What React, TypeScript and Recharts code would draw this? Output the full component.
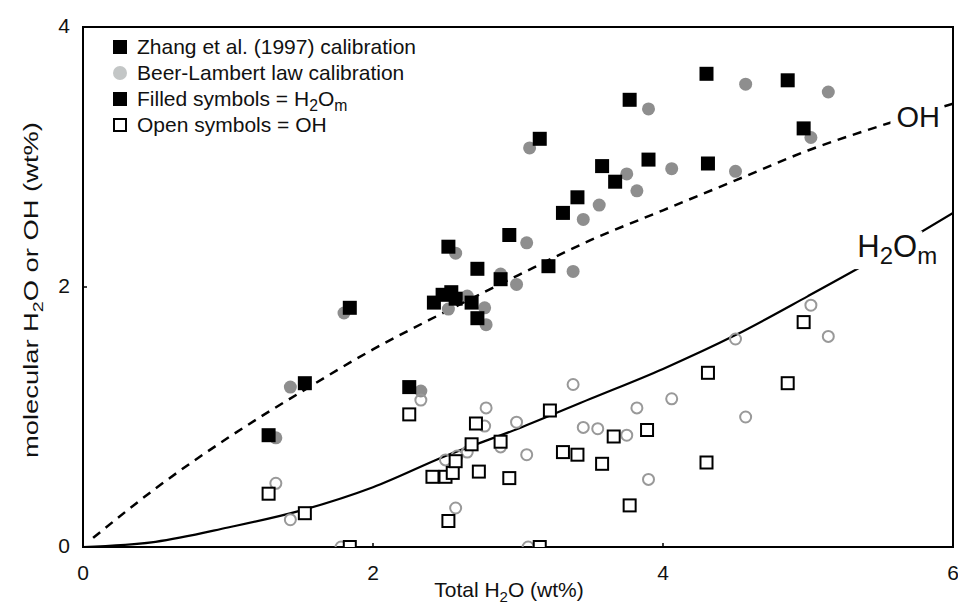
import React from "react";
import {
  ComposedChart,
  Scatter,
  Line,
  XAxis,
  YAxis,
  Label,
  ReferenceArea,
  ReferenceDot,
} from "recharts";

// Zhang et al. (1997) calibration, molecular H2O (filled squares)
const zhangH2OmX = [1.28, 1.53, 1.84, 2.25, 2.42, 2.48, 2.52, 2.54, 2.57, 2.68, 2.72, 2.72, 2.88, 2.94, 3.15, 3.21, 3.31, 3.41, 3.58, 3.67, 3.77, 3.9, 4.3, 4.31, 4.86, 4.97];
const zhangH2OmY = [0.86, 1.26, 1.84, 1.23, 1.88, 1.94, 2.31, 1.96, 1.91, 1.88, 1.76, 2.14, 2.06, 2.4, 3.14, 2.16, 2.57, 2.69, 2.93, 2.81, 3.44, 2.98, 3.64, 2.95, 3.59, 3.22];

// Beer-Lambert law calibration, molecular H2O (filled grey circles)
const beerH2OmX = [1.33, 1.43, 1.8, 2.33, 2.52, 2.57, 2.65, 2.77, 2.78, 2.88, 2.99, 3.06, 3.08, 3.38, 3.45, 3.56, 3.75, 3.82, 3.9, 4.06, 4.5, 4.57, 5.02, 5.14];
const beerH2OmY = [0.84, 1.23, 1.8, 1.2, 1.83, 2.26, 1.93, 1.84, 1.71, 2.1, 2.02, 2.34, 3.07, 2.12, 2.52, 2.63, 2.87, 2.74, 3.37, 2.91, 2.89, 3.56, 3.15, 3.5];

// Zhang et al. (1997) calibration, OH (open squares)
const zhangOHX = [1.28, 1.53, 1.84, 2.25, 2.41, 2.5, 2.52, 2.55, 2.57, 2.68, 2.71, 2.73, 2.88, 2.94, 3.15, 3.22, 3.31, 3.41, 3.58, 3.66, 3.77, 3.89, 4.3, 4.31, 4.86, 4.97];
const zhangOHY = [0.41, 0.26, 0.0, 1.02, 0.54, 0.54, 0.2, 0.57, 0.66, 0.79, 0.95, 0.58, 0.81, 0.53, 0.0, 1.05, 0.73, 0.71, 0.64, 0.85, 0.32, 0.9, 0.65, 1.34, 1.26, 1.73];

// Beer-Lambert law calibration, OH (open grey circles)
const beerOHX = [1.33, 1.43, 1.78, 2.33, 2.5, 2.57, 2.58, 2.65, 2.77, 2.78, 2.88, 2.99, 3.06, 3.07, 3.38, 3.45, 3.55, 3.75, 3.82, 3.9, 4.06, 4.5, 4.57, 5.02, 5.14];
const beerOHY = [0.49, 0.21, 0.0, 1.13, 0.67, 0.3, 0.7, 0.73, 0.93, 1.07, 0.77, 0.96, 0.71, 0.0, 1.25, 0.92, 0.91, 0.86, 1.07, 0.52, 1.14, 1.6, 1.0, 1.86, 1.62];

// model curves
const ohCurveX = [0.07, 0.5, 1, 1.5, 2, 2.5, 3, 3.5, 4, 4.5, 5, 5.5, 6];
const ohCurveY = [0.07, 0.45, 0.84, 1.19, 1.52, 1.81, 2.09, 2.36, 2.59, 2.82, 3.05, 3.24, 3.41];
const h2omCurveX = [0, 0.5, 1, 1.5, 2, 2.5, 3, 3.5, 4, 4.5, 5, 5.5, 6];
const h2omCurveY = [0, 0.04, 0.15, 0.28, 0.46, 0.7, 0.91, 1.14, 1.37, 1.63, 1.93, 2.24, 2.57];

const xTicks = [0, 2, 4, 6];
const yTicks = [0, 2, 4];

const zip = (xs: number[], ys: number[]) => xs.map((x, i) => ({ x, y: ys[i] }));

const FONT = '"Liberation Sans", Arial, Helvetica, sans-serif';

const FilledSquare = (p: any) => (
  <rect x={p.cx - 7} y={p.cy - 7} width={14} height={14} fill="#000" />
);
const OpenSquare = (p: any) => (
  <rect x={p.cx - 6} y={p.cy - 6} width={12} height={12} fill="#fff" stroke="#000" strokeWidth={2} />
);
const FilledCircle = (p: any) => <circle cx={p.cx} cy={p.cy} r={6.5} fill="#8e8e8e" />;
const OpenCircle = (p: any) => (
  <circle cx={p.cx} cy={p.cy} r={5.5} fill="none" stroke="#999" strokeWidth={2} />
);

const XTick = ({ x, y, payload }: any) => (
  <g>
    <line x1={x} x2={x} y1={y} y2={y - 4} stroke="#000" strokeWidth={1.5} />
    <text x={x} y={y + 33} textAnchor="middle" fontSize={21} fill="#111" fontFamily={FONT}>
      {payload.value}
    </text>
  </g>
);

const YTick = ({ x, y, payload }: any) => (
  <g>
    <line x1={x} x2={x + 4} y1={y} y2={y} stroke="#000" strokeWidth={1.5} />
    <text x={x - 13} y={y + 6} textAnchor="end" fontSize={21} fill="#111" fontFamily={FONT}>
      {payload.value}
    </text>
  </g>
);

const XTitle = ({ viewBox }: any) => (
  <text
    x={viewBox.x + viewBox.width / 2 - 9}
    y={597}
    textAnchor="middle"
    fontSize={21}
    fill="#111"
    fontFamily={FONT}
  >
    <tspan>Total H</tspan>
    <tspan dy={5} fontSize={15}>2</tspan>
    <tspan dy={-5}>O (wt%)</tspan>
  </text>
);

const YTitle = ({ viewBox }: any) => {
  const cx = viewBox.x + 15;
  const cy = viewBox.y + viewBox.height / 2 + 3;
  return (
    <text
      x={cx}
      y={cy}
      transform={`rotate(-90 ${cx} ${cy})`}
      textAnchor="middle"
      fontSize={21}
      fill="#111"
      fontFamily={FONT}
      textLength={336}
      lengthAdjust="spacingAndGlyphs"
    >
      <tspan>molecular H</tspan>
      <tspan dy={5} fontSize={15}>2</tspan>
      <tspan dy={-5}>O or OH (wt%)</tspan>
    </text>
  );
};

const OhTag = (p: any) => (
  <g>
    <rect x={p.cx - 6} y={p.cy - 24} width={52} height={30} fill="#fff" />
    <text x={p.cx} y={p.cy} fontSize={29} fill="#111" fontFamily={FONT}>
      OH
    </text>
  </g>
);

const H2OmTag = (p: any) => (
  <g>
    <rect x={p.cx - 5} y={p.cy - 26} width={70} height={38} fill="#fff" />
    <text x={p.cx} y={p.cy} fontSize={31} fill="#111" fontFamily={FONT}>
      <tspan>H</tspan>
      <tspan dy={7} fontSize={24}>2</tspan>
      <tspan dy={-7}>O</tspan>
      <tspan dy={7} fontSize={24}>m</tspan>
    </text>
  </g>
);

const sub: React.CSSProperties = { fontSize: "0.75em", verticalAlign: "-0.3em", lineHeight: 0 };

function LegendBox() {
  const row: React.CSSProperties = { display: "flex", alignItems: "center", height: 26 };
  const mark: React.CSSProperties = { width: 14, height: 14, marginRight: 10, boxSizing: "border-box" };
  return (
    <div
      style={{
        position: "absolute",
        left: 113,
        top: 34,
        fontFamily: FONT,
        fontSize: 21,
        color: "#111",
        lineHeight: "26px",
      }}
    >
      <div style={row}>
        <span style={{ ...mark, background: "#000" }} />
        Zhang et al. (1997) calibration
      </div>
      <div style={row}>
        <span style={{ ...mark, background: "#c3c6c6", borderRadius: "50%" }} />
        Beer-Lambert law calibration
      </div>
      <div style={row}>
        <span style={{ ...mark, background: "#000" }} />
        <span>
          Filled symbols = H<span style={sub}>2</span>O<span style={sub}>m</span>
        </span>
      </div>
      <div style={row}>
        <span style={{ ...mark, border: "2px solid #000", background: "#fff" }} />
        Open symbols = OH
      </div>
    </div>
  );
}

export default function App() {
  return (
    <div
      style={{
        position: "absolute",
        left: 0,
        top: 0,
        width: 958,
        height: 604,
        background: "#fff",
        fontFamily: FONT,
      }}
    >
      <ComposedChart width={958} height={604} margin={{ top: 27, right: 5, bottom: 27, left: 23 }}>
        <XAxis
          type="number"
          dataKey="x"
          domain={[0, 6]}
          ticks={xTicks}
          allowDataOverflow
          axisLine={false}
          tickLine={false}
          tickSize={0}
          tickMargin={0}
          tick={<XTick />}
          height={30}
        >
          <Label content={<XTitle />} />
        </XAxis>
        <YAxis
          type="number"
          domain={[0, 4]}
          ticks={yTicks}
          allowDataOverflow
          axisLine={false}
          tickLine={false}
          tickSize={0}
          tickMargin={0}
          tick={<YTick />}
          width={60}
        >
          <Label content={<YTitle />} />
        </YAxis>
        <ReferenceArea x1={0} x2={6} y1={0} y2={4} fill="none" stroke="#000" strokeWidth={2} />
        <Scatter data={zip(beerH2OmX, beerH2OmY)} dataKey="y" shape={<FilledCircle />} isAnimationActive={false} />
        <Scatter data={zip(beerOHX, beerOHY)} dataKey="y" shape={<OpenCircle />} isAnimationActive={false} />
        <Scatter data={zip(zhangH2OmX, zhangH2OmY)} dataKey="y" shape={<FilledSquare />} isAnimationActive={false} />
        <Scatter data={zip(zhangOHX, zhangOHY)} dataKey="y" shape={<OpenSquare />} isAnimationActive={false} />
        <Line
          data={zip(ohCurveX, ohCurveY)}
          dataKey="y"
          type="monotone"
          stroke="#000"
          strokeWidth={2.5}
          strokeDasharray="9 7"
          dot={false}
          isAnimationActive={false}
        />
        <Line
          data={zip(h2omCurveX, h2omCurveY)}
          dataKey="y"
          type="monotone"
          stroke="#000"
          strokeWidth={2.2}
          dot={false}
          isAnimationActive={false}
        />
        <ReferenceDot x={5.61} y={3.23} r={0} shape={<OhTag />} ifOverflow="visible" />
        <ReferenceDot x={5.34} y={2.23} r={0} shape={<H2OmTag />} ifOverflow="visible" />
      </ComposedChart>
      <LegendBox />
    </div>
  );
}
